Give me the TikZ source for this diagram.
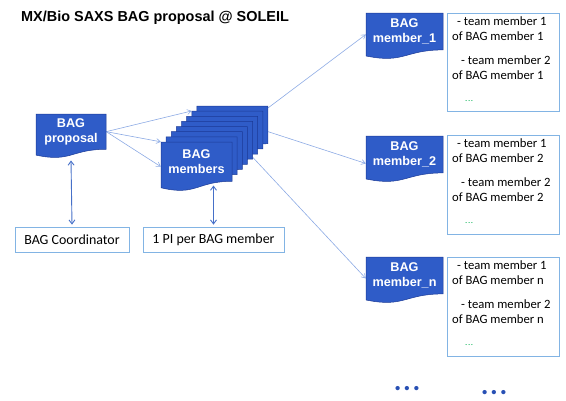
\documentclass[tikz,border=0pt]{standalone}
\usepackage{fontspec}
\setmainfont{Carlito}
\newfontfamily\arialfont{Liberation Sans}
\usetikzlibrary{arrows.meta,calc}
\definecolor{docblue}{RGB}{47,92,200}
\definecolor{docedge}{RGB}{28,58,150}
\definecolor{arrblue}{RGB}{140,170,228}
\definecolor{dblblue}{RGB}{70,112,200}
\definecolor{boxblue}{RGB}{130,180,228}
\definecolor{dotgreen}{RGB}{0,176,80}
\definecolor{dotblue}{RGB}{40,80,180}
\pgfdeclarelayer{back}
\pgfsetlayers{back,main}
\tikzset{
  docbody/.style={fill=docblue,draw=docedge,line width=0.5bp},
  doclabel/.style={inner sep=0pt,align=center,text=white,font=\arialfont\bfseries\fontsize{12.7}{15.5}\selectfont},
  tbox/.style={draw=boxblue,line width=0.8bp,inner sep=0pt},
  tlist/.style={inner sep=0pt,align=left,anchor=north west,font=\fontsize{12.7}{15}\selectfont},
  thinarr/.style={draw=arrblue,line width=0.6bp,-{Straight Barb[length=4bp,width=5bp]}},
  dblarr/.style={draw=dblblue,line width=0.9bp,{Straight Barb[length=4bp,width=6bp]}-{Straight Barb[length=4bp,width=6bp]}},
  dotrow/.style={inner sep=0pt,text=dotblue,font=\arialfont\bfseries\fontsize{15}{15}\selectfont}
}
\newcommand\docshape[6]{%
  \filldraw[docbody] (#2,#3) -- ({#2+#4},#3) -- ({#2+#4},{#3+0.802*#5})
    .. controls ({#2+0.5*#4},{#3+0.802*#5}) and ({#2+0.5*#4},{#3+1.107*#5}) .. (#2,{#3+0.934*#5}) -- cycle;
  \node[doclabel,minimum width=#4bp,minimum height={0.802*#5*1bp}] (#1) at ({#2+0.5*#4},{#3+0.401*#5}) {#6};}
\newcommand\teamlist[1]{\hspace*{5bp}- team member 1\\of BAG member #1\\[9bp]\hspace*{9bp}- team member 2\\of BAG member #1\\[7bp]\hspace*{13bp}{\color{dotgreen}\fontsize{9}{9}\selectfont .\kern0.6bp.\kern0.6bp.}}
\begin{document}
\begin{tikzpicture}[x=1bp,y=-1bp]
\useasboundingbox (0,0) rectangle (566,400);
\node[inner sep=0pt,anchor=west,font=\arialfont\bfseries\fontsize{14.5}{17}\selectfont] (title) at (21,18) {MX/Bio SAXS BAG proposal @ SOLEIL};
% BAG proposal
\docshape{prop}{36}{114}{70}{44}{BAG\\proposal}
% stack of BAG members
\foreach \k in {7,6,...,1}{%
  \docshape{s\k}{161+5.14*\k}{142-5.14*\k}{71}{47}{}
}
\docshape{s0}{161}{142}{71}{49}{BAG\\members}
% member documents
\docshape{m1}{366}{13}{77}{46}{BAG\\member\_1}
\docshape{m2}{366}{136}{77}{46}{BAG\\member\_2}
\docshape{m3}{366}{257}{77}{46}{BAG\\member\_n}
% text boxes
\node[tbox,minimum width=112bp,minimum height=98bp,anchor=north west] (t1) at (447,13) {};
\node[tlist] (l1) at ([xshift=5bp,yshift=-3.5bp]t1.north west) {\teamlist{1}};
\node[tbox,minimum width=112bp,minimum height=99bp,anchor=north west] (t2) at (447,135) {};
\node[tlist] (l2) at ([xshift=5bp,yshift=-3.5bp]t2.north west) {\teamlist{2}};
\node[tbox,minimum width=112bp,minimum height=99bp,anchor=north west] (t3) at (447,257) {};
\node[tlist] (l3) at ([xshift=5bp,yshift=-3.5bp]t3.north west) {\teamlist{n}};
% bottom boxes
\node[tbox,minimum width=114bp,minimum height=25bp,font=\fontsize{14}{16}\selectfont] (coord) at (72,239.5) {BAG Coordinator};
\node[tbox,minimum width=141bp,minimum height=25bp,font=\fontsize{14}{16}\selectfont] (pi) at (213.5,239.5) {1 PI per BAG member};
% dots
\node[dotrow] (d1) at (407,390) {• • •};
\node[dotrow] (d2) at (494,394) {• • •};
% connectors
\begin{pgfonlayer}{back}
\draw[thinarr] (prop.east) -- (s6.north west);
\draw[thinarr] (prop.east) -- (s0.north west);
\draw[thinarr] (prop.east) -- ([yshift=-5bp]s0.west);
\draw[thinarr] ([yshift=-2bp]s7.north east) -- ([yshift=-3bp]m1.west);
\draw[thinarr] (s6.east) -- ([yshift=-9bp]m2.west);
\draw[thinarr] ([yshift=2bp]s4.south east) -- ([yshift=-3bp]m3.west);
\end{pgfonlayer}
\draw[dblarr] ([yshift=-11bp]prop.south) -- ([yshift=2bp]coord.north);
\draw[dblarr] ($(pi.north |- s0.south)+(0,4)$) -- ([yshift=2bp]pi.north);
\end{tikzpicture}
\end{document}
